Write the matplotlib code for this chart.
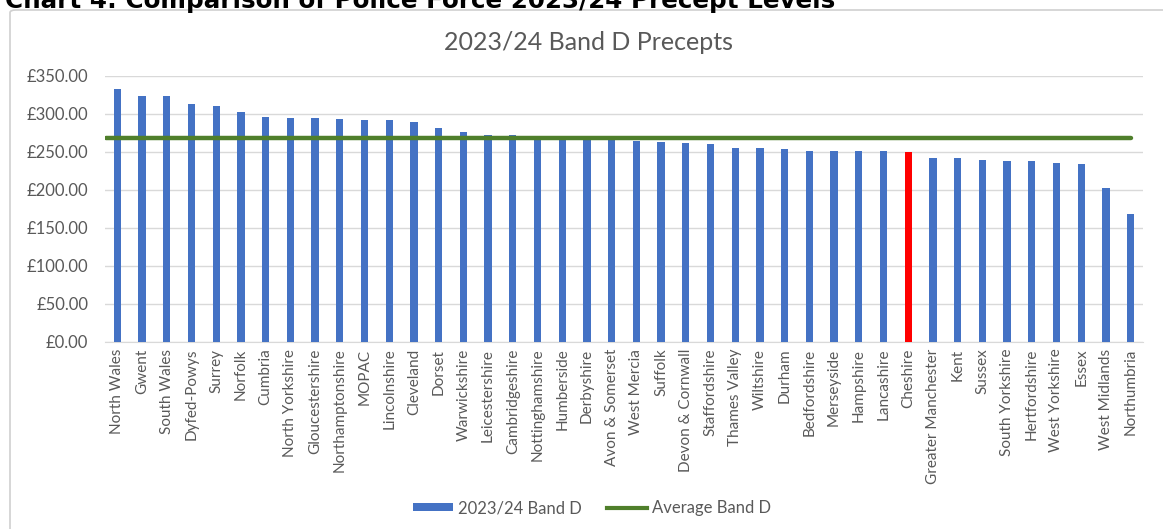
import matplotlib.pyplot as plt
from matplotlib.patches import FancyBboxPatch, Patch
from matplotlib.lines import Line2D

# Band D precepts by force, 2023/24
forces = [
    "North Wales", "Gwent", "South Wales", "Dyfed-Powys", "Surrey", "Norfolk",
    "Cumbria", "North Yorkshire", "Gloucestershire", "Northamptonshire", "MOPAC",
    "Lincolnshire", "Cleveland", "Dorset", "Warwickshire", "Leicestershire",
    "Cambridgeshire", "Nottinghamshire", "Humberside", "Derbyshire",
    "Avon & Somerset", "West Mercia", "Suffolk", "Devon & Cornwall",
    "Staffordshire", "Thames Valley", "Wiltshire", "Durham", "Bedfordshire",
    "Merseyside", "Hampshire", "Lancashire", "Cheshire", "Greater Manchester",
    "Kent", "Sussex", "South Yorkshire", "Hertfordshire", "West Yorkshire",
    "Essex", "West Midlands", "Northumbria",
]
band_d = [
    332.1, 323.3, 323.3, 312.8, 309.7, 302.6,
    296.0, 294.3, 294.3, 292.6, 291.3,
    291.3, 289.5, 280.8, 275.9, 272.4,
    272.6, 266.9, 266.7, 266.2,
    265.5, 264.0, 262.3, 261.0,
    260.0, 255.3, 255.3, 254.0, 251.0,
    251.0, 251.0, 251.0, 250.0, 242.1,
    242.1, 239.1, 237.3, 237.3, 235.1,
    233.3, 201.8, 167.6,
]
average_band_d = 267.6
highlight = "Cheshire"
y_ticks = [0, 50, 100, 150, 200, 250, 300, 350]

BLUE = "#4472C4"
RED = "#FF0000"
GREEN = "#4F7F2B"
GREY_TXT = "#595959"
GRID = "#D9D9D9"

plt.rcParams["font.family"] = ["Lato", "DejaVu Sans"]

fig = plt.figure(figsize=(11.63, 5.29), dpi=100)
fig.patch.set_facecolor("white")

# outer chart frame (only its left and top edges are inside the picture)
frame = FancyBboxPatch((10 / 1163, -0.05), 1.2, 1 - 10 / 529 + 0.05,
                       boxstyle="round,pad=0,rounding_size=0.005",
                       transform=fig.transFigure, facecolor="none",
                       edgecolor="#D0D0D0", linewidth=1.2, zorder=-1)
fig.patches.append(frame)

# heading above the frame, clipped at the top of the image as in the source
fig.text(5 / 1163, 1 - 8 / 529, "Chart 4: Comparison of Police Force 2023/24 Precept Levels",
         fontsize=17.7, fontweight="bold", color="black", ha="left", va="baseline",
         family=["DejaVu Sans"])

ax = fig.add_axes([105 / 1163, 1 - 341.7 / 529, (1143 - 105) / 1163, (341.7 - 75.7) / 529])
ax.set_facecolor("none")

x = list(range(len(forces)))
colors = [RED if f == highlight else BLUE for f in forces]
ax.bar(x, band_d, width=0.3, color=colors, zorder=3)
ax.hlines(average_band_d, -0.45, len(forces) - 1, color=GREEN, linewidth=3.2,
          capstyle="round", zorder=4)

ax.set_xlim(-0.5, len(forces) - 0.5)
ax.set_ylim(0, 350)
ax.set_yticks(y_ticks)
ax.set_yticklabels([f"£{v:.2f}" for v in y_ticks], fontsize=12, color=GREY_TXT)
ax.set_xticks(x)
ax.set_xticklabels(forces, rotation=90, fontsize=11, color=GREY_TXT)
ax.tick_params(axis="y", length=0, pad=12)
ax.tick_params(axis="x", length=0, pad=5)
ax.grid(axis="y", color=GRID, linewidth=1, zorder=0)
for side in ["top", "right", "left"]:
    ax.spines[side].set_visible(False)
ax.spines["bottom"].set_color(GRID)

fig.text(588 / 1163, 1 - 43 / 529, "2023/24 Band D Precepts", fontsize=18,
         color=GREY_TXT, ha="center", va="center")

handles = [Patch(facecolor=BLUE, edgecolor="none"),
           Line2D([0], [0], color=GREEN, linewidth=3)]
fig.legend(handles, ["2023/24 Band D", "Average Band D"], loc="center",
           bbox_to_anchor=(592 / 1163, 1 - 508 / 529), ncol=2, frameon=False,
           fontsize=12, labelcolor=GREY_TXT, handlelength=2.4, handleheight=0.4,
           columnspacing=1.5, handletextpad=0.3)

fig.savefig("out.png", dpi=100)
